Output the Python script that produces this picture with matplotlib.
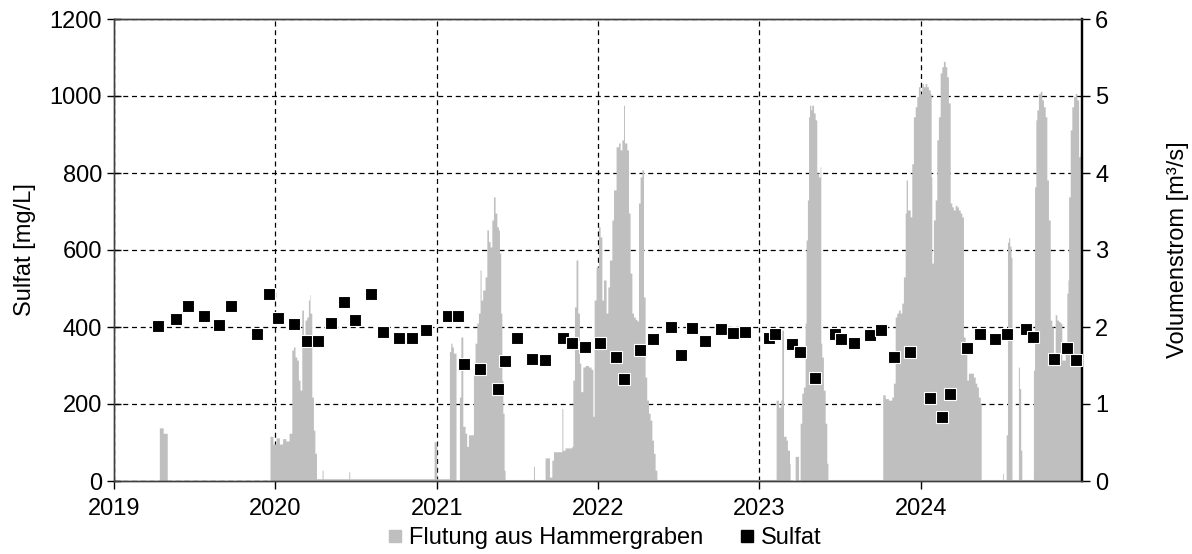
import numpy as np
import matplotlib
matplotlib.use("Agg")
import matplotlib.pyplot as plt
from matplotlib.lines import Line2D

plt.rcParams['font.family'] = ['Liberation Sans', 'DejaVu Sans']

# Sulfat [mg/L] -- Probenahmen (Dezimaljahr)
sulfat_t = [2019.275, 2019.386, 2019.457, 2019.560, 2019.653, 2019.725, 2019.885, 2019.963,
            2020.019, 2020.116, 2020.195, 2020.267, 2020.345, 2020.426, 2020.496, 2020.591,
            2020.670, 2020.769, 2020.846, 2020.932, 2021.071, 2021.131, 2021.172, 2021.267,
            2021.379, 2021.426, 2021.497, 2021.593, 2021.672, 2021.786, 2021.841, 2021.918,
            2022.013, 2022.110, 2022.164, 2022.259, 2022.340, 2022.451, 2022.517, 2022.585,
            2022.664, 2022.761, 2022.839, 2022.910, 2023.063, 2023.100, 2023.205, 2023.253,
            2023.342, 2023.470, 2023.507, 2023.586, 2023.683, 2023.753, 2023.834, 2023.935,
            2024.055, 2024.133, 2024.183, 2024.286, 2024.365, 2024.462, 2024.538, 2024.652,
            2024.699, 2024.826, 2024.906, 2024.964]
sulfat_v = [403, 421, 455, 429, 405, 455, 382, 485,
            424, 409, 364, 364, 411, 465, 418, 485,
            388, 371, 371, 391, 429, 429, 304, 291,
            238, 311, 371, 317, 313, 371, 358, 347,
            358, 321, 264, 341, 368, 401, 327, 397,
            364, 394, 384, 388, 371, 383, 355, 335,
            268, 383, 368, 358, 378, 391, 321, 335,
            215, 165, 225, 345, 383, 368, 383, 394,
            373, 318, 345, 314]

# Flutung aus Hammergraben [m3/s], Stufenwerte ab Zeitpunkt
q19_t = [2019.000, 2019.281, 2019.305, 2019.330]
q19_v = [0.00, 0.69, 0.62, 0.00]

q20_t = [2019.967, 2019.985, 2020.005, 2020.025, 2020.045, 2020.065, 2020.085, 2020.102,
         2020.112, 2020.122, 2020.133, 2020.143, 2020.153, 2020.164, 2020.174, 2020.184,
         2020.195, 2020.205, 2020.212, 2020.215, 2020.226, 2020.236, 2020.245, 2020.255,
         2020.290, 2020.296, 2020.455, 2020.461]
q20_v = [0.58, 0.48, 0.56, 0.48, 0.55, 0.52, 0.62, 1.70,
         1.74, 1.61, 1.57, 1.31, 1.18, 2.22, 1.74, 2.09,
         2.13, 2.35, 2.42, 2.18, 1.09, 0.66, 0.36, 0.03,
         0.14, 0.03, 0.12, 0.03]

q21_t = [2020.984, 2021.000, 2021.079, 2021.087, 2021.095, 2021.104, 2021.120, 2021.141,
         2021.150, 2021.162, 2021.176, 2021.186, 2021.197, 2021.218, 2021.228, 2021.238,
         2021.249, 2021.259, 2021.269, 2021.275, 2021.285, 2021.300, 2021.311, 2021.321,
         2021.331, 2021.342, 2021.352, 2021.362, 2021.373, 2021.383, 2021.389, 2021.397,
         2021.404, 2021.410, 2021.418, 2021.424]
q21_v = [0.51, 0.03, 1.68, 1.79, 1.74, 1.66, 0.00, 1.09,
         1.87, 0.71, 0.62, 0.45, 0.60, 0.60, 1.48, 1.79,
         2.05, 2.18, 2.74, 2.35, 2.48, 2.65, 3.26, 3.11,
         3.04, 3.39, 3.69, 3.48, 3.30, 3.26, 2.96, 2.18,
         1.31, 0.88, 0.14, 0.02]

q22_t = [2021.600, 2021.606, 2021.672, 2021.699, 2021.714, 2021.724, 2021.776, 2021.782,
         2021.796, 2021.838, 2021.844, 2021.854, 2021.864, 2021.875, 2021.885, 2021.893,
         2021.906, 2021.920, 2021.941, 2021.957, 2021.968, 2021.976, 2021.988, 2022.003,
         2022.013, 2022.024, 2022.034, 2022.050, 2022.061, 2022.071, 2022.086, 2022.096,
         2022.112, 2022.127, 2022.137, 2022.148, 2022.158, 2022.164, 2022.179, 2022.189,
         2022.199, 2022.210, 2022.220, 2022.231, 2022.241, 2022.251, 2022.261, 2022.272,
         2022.282, 2022.292, 2022.302, 2022.313, 2022.323, 2022.334, 2022.344, 2022.354,
         2022.365]
q22_v = [0.19, 0.02, 0.30, 0.05, 0.27, 0.38, 0.94, 0.40,
         0.43, 0.45, 1.31, 2.26, 2.87, 2.18, 1.53, 1.16,
         1.48, 1.50, 1.48, 1.45, 0.84, 2.35, 2.78, 3.30,
         3.17, 2.35, 2.61, 2.18, 2.52, 2.87, 3.39, 3.78,
         4.34, 4.39, 4.30, 4.43, 4.88, 4.39, 4.30, 3.48,
         2.70, 2.18, 2.13, 2.10, 2.08, 3.61, 3.95, 4.04,
         2.39, 1.35, 1.05, 0.88, 0.79, 0.53, 0.36, 0.14,
         0.02]

q23_t = [2023.104, 2023.118, 2023.133, 2023.139, 2023.150, 2023.166, 2023.174, 2023.187,
         2023.191, 2023.222, 2023.243, 2023.253, 2023.263, 2023.273, 2023.284, 2023.290,
         2023.298, 2023.305, 2023.311, 2023.319, 2023.325, 2023.336, 2023.346, 2023.356,
         2023.367, 2023.377, 2023.381, 2023.387, 2023.397, 2023.408, 2023.418, 2023.425]
q23_v = [1.05, 0.96, 1.05, 1.96, 0.58, 0.53, 0.40, 0.23,
         0.00, 0.32, 0.00, 0.75, 1.14, 1.22, 2.05, 3.13,
         3.65, 4.73, 4.88, 4.82, 4.88, 4.78, 4.69, 4.00,
         3.95, 4.08, 1.79, 1.61, 1.18, 0.75, 0.23, 0.02]

q24_t = [2023.765, 2023.780, 2023.800, 2023.821, 2023.831, 2023.842, 2023.852, 2023.862,
         2023.873, 2023.883, 2023.893, 2023.904, 2023.910, 2023.918, 2023.935, 2023.945,
         2023.955, 2023.966, 2023.976, 2023.986, 2023.997, 2024.007, 2024.017, 2024.028,
         2024.038, 2024.048, 2024.059, 2024.065, 2024.069, 2024.079, 2024.090, 2024.100,
         2024.110, 2024.121, 2024.131, 2024.141, 2024.152, 2024.162, 2024.172, 2024.183,
         2024.193, 2024.203, 2024.214, 2024.224, 2024.234, 2024.245, 2024.255, 2024.265,
         2024.276, 2024.286, 2024.296, 2024.317, 2024.327, 2024.338, 2024.348, 2024.358,
         2024.369, 2024.375]
q24_v = [1.12, 1.07, 1.05, 1.09, 1.27, 2.13, 2.18, 2.22,
         2.18, 2.31, 2.65, 3.48, 3.91, 3.52, 3.43, 4.12,
         4.73, 4.86, 4.99, 5.12, 5.03, 5.16, 5.12, 5.16,
         5.12, 5.08, 5.03, 3.95, 2.83, 3.39, 3.65, 4.43,
         4.73, 5.30, 5.38, 5.45, 5.38, 5.25, 4.91, 3.61,
         3.56, 3.52, 3.58, 3.56, 3.52, 3.48, 3.43, 1.87,
         1.70, 1.31, 1.40, 1.40, 1.35, 1.27, 1.22, 1.09,
         1.01, 0.02]

q25_t = [2024.507, 2024.512, 2024.530, 2024.538, 2024.545, 2024.552, 2024.560, 2024.566,
         2024.606, 2024.612, 2024.620, 2024.627, 2024.699, 2024.706, 2024.714, 2024.720,
         2024.730, 2024.741, 2024.751, 2024.761, 2024.772, 2024.782, 2024.792, 2024.803,
         2024.813, 2024.823, 2024.834, 2024.844, 2024.855, 2024.865, 2024.875, 2024.896,
         2024.906, 2024.913, 2024.917, 2024.927, 2024.937, 2024.948, 2024.958, 2024.968,
         2024.979, 2024.989, 2025.000]
q25_v = [0.10, 0.02, 0.60, 3.10, 3.16, 3.05, 2.90, 0.02,
         1.48, 1.20, 0.40, 0.02, 1.44, 3.82, 4.69, 4.82,
         5.03, 5.06, 4.95, 4.86, 4.73, 3.91, 3.39, 2.09,
         2.00, 1.61, 2.16, 2.09, 2.07, 2.05, 1.57, 1.70,
         2.44, 2.61, 3.69, 4.56, 4.86, 4.99, 5.03, 4.95,
         4.21, 4.26, 4.26]

flow_t = np.concatenate([q19_t, q20_t, q21_t, q22_t, q23_t, q24_t, q25_t])
flow_v = np.concatenate([q19_v, q20_v, q21_v, q22_v, q23_v, q24_v, q25_v])

grey = '#bfbfbf'
fs = 17

fig = plt.figure(figsize=(11.92, 5.54), dpi=100)
ax = fig.add_axes([114 / 1192, 1 - 481 / 554, 968 / 1192, 462 / 554])
axs = ax.twinx()  # Sulfat liegt oben

# Volumenstrom (rechte Achse), unten liegend
ax.fill_between(flow_t, flow_v, step='post', color=grey, lw=0, zorder=1)
ax.set_xlim(2019, 2025)
ax.set_ylim(0, 6)
ax.yaxis.tick_right()
ax.yaxis.set_label_position('right')
ax.set_yticks(range(0, 7))
ax.set_xticks(range(2019, 2025))
ax.set_axisbelow(True)
ax.grid(True, color='black', lw=0.9, ls=(0, (4, 3)))
ax.set_ylabel('Volumenstrom [m³/s]', fontsize=fs, labelpad=42)
ax.tick_params(axis='both', direction='out', length=6, labelsize=fs, width=1)
ax.tick_params(axis='x', pad=6)

# Sulfat (linke Achse)
axs.yaxis.tick_left()
axs.yaxis.set_label_position('left')
axs.plot(sulfat_t, sulfat_v, 's', ms=8, mfc='black', mec='white', mew=0.8, zorder=3)
axs.set_ylim(0, 1200)
axs.set_yticks(range(0, 1201, 200))
axs.set_ylabel('Sulfat [mg/L]', fontsize=fs, labelpad=10)
axs.tick_params(axis='y', direction='inout', length=10, labelsize=fs, width=1)

for a in (ax, axs):
    for side in ('left', 'bottom', 'top'):
        a.spines[side].set_color('#404040')
        a.spines[side].set_linewidth(1)
    a.spines['right'].set_color('black')
    a.spines['right'].set_linewidth(1.6)

handles = [Line2D([], [], marker='s', ls='', color=grey, ms=8),
           Line2D([], [], marker='s', ls='', color='black', ms=8)]
fig.legend(handles, ['Flutung aus Hammergraben', 'Sulfat'], loc='center',
           bbox_to_anchor=(0.508, 1 - 538 / 554), ncol=2, frameon=False, fontsize=fs,
           handlelength=0.5, handletextpad=0.35, columnspacing=1.6)

fig.savefig('out.png', dpi=100)
